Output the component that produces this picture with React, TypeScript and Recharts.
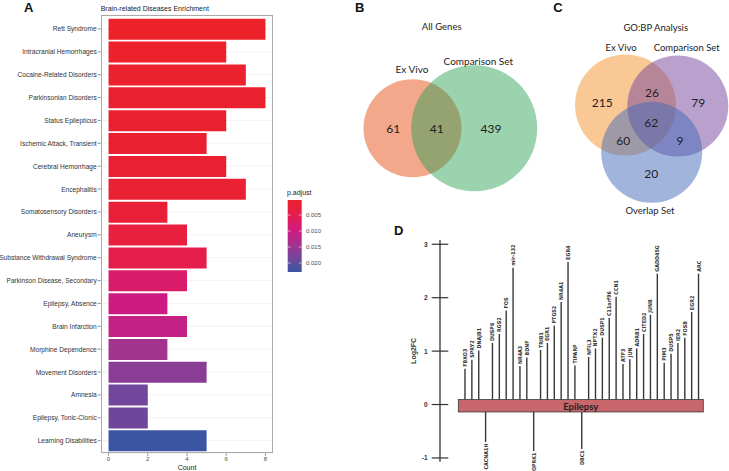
import React from 'react';
import {
  BarChart, Bar, XAxis, YAxis, CartesianGrid, ReferenceArea, Legend, LabelList, Cell,
  ScatterChart, Scatter, Label,
} from 'recharts';

// ---------------- Panel A data ----------------
const diseases = [
  'Rett Syndrome', 'Intracranial Hemorrhages', 'Cocaine-Related Disorders', 'Parkinsonian Disorders',
  'Status Epilepticus', 'Ischemic Attack, Transient', 'Cerebral Hemorrhage', 'Encephalitis',
  'Somatosensory Disorders', 'Aneurysm', 'Substance Withdrawal Syndrome', 'Parkinson Disease, Secondary',
  'Epilepsy, Absence', 'Brain Infarction', 'Morphine Dependence', 'Movement Disorders', 'Amnesia',
  'Epilepsy, Tonic-Clonic', 'Learning Disabilities',
];
const diseaseCounts = [8, 6, 7, 8, 6, 5, 6, 7, 3, 4, 5, 4, 3, 4, 3, 5, 2, 2, 5];
const diseasePAdjust = [
  0.0003, 0.0006, 0.0008, 0.0009, 0.0011, 0.0013, 0.0014, 0.0016, 0.0022, 0.003, 0.0045,
  0.0075, 0.01, 0.011, 0.0145, 0.0165, 0.0185, 0.0186, 0.0228,
];
const countTicks = [0, 2, 4, 6, 8];
const countGrid = [0, 1, 2, 3, 4, 5, 6, 7, 8];
const pAdjustTicks = [0.005, 0.01, 0.015, 0.02];

// ---------------- Panel B / C data ----------------
const vennBTitle = 'All Genes';
const vennBSets = ['Ex Vivo', 'Comparison Set'];
const vennBCounts = [61, 41, 439]; // ExVivo only, both, Comparison only
const vennCTitle = 'GO:BP Analysis';
const vennCSets = ['Ex Vivo', 'Comparison Set', 'Overlap Set'];
const vennCCounts = [215, 26, 79, 62, 60, 9, 20]; // E, E&C, C, all, E&O, C&O, O

// ---------------- Panel D data ----------------
const genes = [
  'FBXO3', 'SPRY2', 'DNAJB1', 'CACNA1H', 'DUSP6', 'RGS2', 'FOS', 'mir-132', 'NR4A3', 'BDNF', 'OPRK1',
  'TRIB1', 'EGR1', 'PTGS2', 'NR4A1', 'EGR4', 'TIPARP', 'DBC1', 'NFIL3', 'NPTX2', 'DUSP1', 'C11orf96',
  'CCN1', 'ATF3', 'JUN', 'ADRB1', 'CITED2', 'JUNB', 'GADD45G', 'PIM3', 'DUSP5', 'IER2', 'FOSB', 'EGR2', 'ARC',
];
const geneLog2FC = [
  0.67, 0.84, 1.01, -0.7, 1.15, 1.32, 1.76, 2.56, 0.72, 0.88, -0.87,
  1.02, 1.15, 1.48, 1.92, 2.67, 0.73, -0.83, 0.89, 1.05, 1.25, 1.62,
  2.02, 0.76, 0.85, 1.05, 1.32, 1.68, 2.45, 0.78, 0.95, 1.15, 1.25, 1.73, 2.45,
];
const log2fcTicks = [-1, 0, 1, 2, 3];
const pathwayName = 'Epilepsy';

// ---------------- styles ----------------
const SANS = "'Liberation Sans', Arial, Helvetica, sans-serif";
const VENN_FONT = "Lato, 'Open Sans', sans-serif";
const NARROW = "'Liberation Sans Narrow', 'DejaVu Sans Condensed', 'Liberation Sans', sans-serif";

const P_GRADIENT: [number, string][] = [
  [0, '#EC2129'], [0.2, '#E51D4D'], [0.42, '#CF1A80'], [0.64, '#9E3590'], [0.86, '#634B9E'], [1, '#3B55A4'],
];
const hexToRgb = (h: string) => {
  const n = parseInt(h.slice(1), 16);
  return [(n >> 16) & 255, (n >> 8) & 255, n & 255];
};
const gradColor = (t: number) => {
  const tt = Math.max(0, Math.min(1, t));
  for (let i = 0; i < P_GRADIENT.length - 1; i++) {
    const [t0, c0] = P_GRADIENT[i];
    const [t1, c1] = P_GRADIENT[i + 1];
    if (tt <= t1) {
      const f = (tt - t0) / (t1 - t0);
      const a = hexToRgb(c0), b = hexToRgb(c1);
      const c = a.map((v, k) => Math.round(v + (b[k] - v) * f));
      return `rgb(${c[0]},${c[1]},${c[2]})`;
    }
  }
  return P_GRADIENT[P_GRADIENT.length - 1][1];
};
const pMin = Math.min(...diseasePAdjust);
const pMax = Math.max(...diseasePAdjust);
const pT = (p: number) => (p - pMin) / (pMax - pMin);

const barData = diseases.map((name, i) => ({ name, count: diseaseCounts[i], p: diseasePAdjust[i] }));

// ---------------- Panel A ----------------
const BAR_W = 340, BAR_H = 471;
const A_MARGIN = { top: 15, right: 66.7, bottom: 0, left: 0 };
const A_YAXIS_W = 100.7, A_XAXIS_H = 17.7;
const COLORBAR_H = 72;

const PLegend = () => (
  <div style={{ fontFamily: SANS, color: '#222' }}>
    <div style={{ fontSize: 7, lineHeight: '9px', height: 12 }}>p.adjust</div>
    <svg width={60} height={COLORBAR_H + 4} style={{ display: 'block', overflow: 'visible' }}>
      <defs>
        <linearGradient id="pgrad" x1="0" y1="0" x2="0" y2="1">
          {P_GRADIENT.map(([t, c]) => <stop key={t} offset={t} stopColor={c} />)}
        </linearGradient>
      </defs>
      <rect x={0.7} y={0} width={14} height={COLORBAR_H} fill="url(#pgrad)" />
      {pAdjustTicks.map((v) => {
        const y = pT(v) * COLORBAR_H;
        return (
          <g key={v}>
            <line x1={0.7} x2={3.5} y1={y} y2={y} stroke="#fff" strokeWidth={0.6} />
            <line x1={11.9} x2={14.7} y1={y} y2={y} stroke="#fff" strokeWidth={0.6} />
            <text x={19} y={y} fontSize={6} dominantBaseline="central" fill="#4D4D4D" fontFamily={SANS}>
              {v.toFixed(3)}
            </text>
          </g>
        );
      })}
    </svg>
  </div>
);

const CatTick = (props: any) => {
  const { x, y, payload } = props;
  return (
    <text x={x} y={y} textAnchor="end" dominantBaseline="central" fontSize={6.6} fill="#333" fontFamily={SANS}>
      {payload.value}
    </text>
  );
};

const PanelA = () => (
  <div style={{ position: 'absolute', left: 0, top: 0 }}>
    <BarChart
      layout="vertical"
      width={BAR_W}
      height={BAR_H}
      data={barData}
      margin={A_MARGIN}
      barCategoryGap="5%"
    >
      <CartesianGrid
        stroke="#EBEBEB"
        strokeWidth={0.6}
        verticalCoordinatesGenerator={(args: any) => {
          const s = args && args.xAxis && args.xAxis.scale;
          if (typeof s === 'function') return countGrid.map((v) => s(v));
          return [];
        }}
      />
      <XAxis
        type="number"
        domain={[-0.4, 8.4]}
        allowDataOverflow
        ticks={countTicks}
        interval={0}
        height={A_XAXIS_H}
        axisLine={false}
        tickLine={{ stroke: '#444', strokeWidth: 0.6 }}
        tickSize={2.5}
        tickMargin={1}
        tick={{ fontSize: 6, fill: '#4D4D4D', fontFamily: SANS }}
      >
        <Label value="Count" position="insideBottom" offset={1} style={{ fontSize: 7, fill: '#222', fontFamily: SANS }} />
      </XAxis>
      <YAxis
        type="category"
        dataKey="name"
        width={A_YAXIS_W}
        interval={0}
        axisLine={false}
        tickLine={{ stroke: '#444', strokeWidth: 0.6 }}
        tickSize={3}
        tickMargin={1}
        padding={{ top: 2.5, bottom: 1.2 }}
        tick={CatTick}
      />
      <Bar dataKey="count" isAnimationActive={false}>
        {barData.map((d, i) => <Cell key={i} fill={gradColor(pT(d.p))} />)}
      </Bar>
      <Legend
        layout="vertical"
        align="center"
        verticalAlign="middle"
        content={() => <PLegend />}
        wrapperStyle={{ left: 287, top: 188, width: 60, height: 90 }}
      />
    </BarChart>
    <div
      style={{
        position: 'absolute',
        left: A_MARGIN.left + A_YAXIS_W,
        top: A_MARGIN.top,
        width: BAR_W - A_MARGIN.left - A_YAXIS_W - A_MARGIN.right,
        height: BAR_H - A_MARGIN.top - A_MARGIN.bottom - A_XAXIS_H,
        boxSizing: 'border-box',
        border: '0.8px solid #AAAAAA',
        pointerEvents: 'none',
      }}
    />
  </div>
);

// ---------------- Panels B & C (Venn) ----------------
const VENN_LEFT = 340, VENN_W = 389, VENN_H = 225;

const vennCircleLayout = [
  { x: 412.5, y: 128.3, r: 49, fill: '#E9602E', opacity: 0.55 },
  { x: 474.2, y: 128.3, r: 63, fill: '#219D4B', opacity: 0.45 },
  { x: 625.5, y: 105, r: 50.5, fill: '#F3912A', opacity: 0.5 },
  { x: 677.8, y: 106, r: 50.5, fill: '#75419B', opacity: 0.5 },
  { x: 651.7, y: 152.3, r: 50.5, fill: '#4169B9', opacity: 0.5 },
];
const vennCirclePoints = vennCircleLayout.map((c) => ({ ...c, x: c.x - VENN_LEFT }));

const vennBCountPos = [[393.3, 128.3], [436.7, 128.3], [491, 128.3]];
const vennCCountPos = [[602.3, 102.3], [652, 92.3], [698.3, 102.7], [651.3, 122.3], [623.3, 140], [680, 140], [651.3, 173.3]];

const vennTextPoints = [
  { x: 441.7, y: 26, text: vennBTitle, size: 9.5 },
  { x: 412, y: 68.5, text: vennBSets[0], size: 10 },
  { x: 478.3, y: 60.7, text: vennBSets[1], size: 10 },
  ...vennBCounts.map((c, i) => ({ x: vennBCountPos[i][0], y: vennBCountPos[i][1], text: String(c), size: 12 })),
  { x: 655.7, y: 27.3, text: vennCTitle, size: 9.5 },
  { x: 621, y: 47.7, text: vennCSets[0], size: 9.5 },
  { x: 686.7, y: 47.7, text: vennCSets[1], size: 9.5 },
  { x: 650, y: 210, text: vennCSets[2], size: 9.5 },
  ...vennCCounts.map((c, i) => ({ x: vennCCountPos[i][0], y: vennCCountPos[i][1], text: String(c), size: 12 })),
].map((t) => ({ ...t, x: t.x - VENN_LEFT }));

const CircleShape = (p: any) => (
  <circle cx={p.cx} cy={p.cy} r={p.payload.r} fill={p.payload.fill} fillOpacity={p.payload.opacity} />
);
const TextShape = (p: any) => (
  <text
    x={p.cx}
    y={p.cy}
    textAnchor="middle"
    dominantBaseline="central"
    fontSize={p.payload.size}
    fontFamily={VENN_FONT}
    fill="#222"
  >
    {p.payload.text}
  </text>
);

const PanelVenn = () => (
  <div style={{ position: 'absolute', left: VENN_LEFT, top: 0 }}>
    <ScatterChart width={VENN_W} height={VENN_H} margin={{ top: 0, right: 0, bottom: 0, left: 0 }}>
      <XAxis type="number" dataKey="x" domain={[0, VENN_W]} allowDataOverflow hide />
      <YAxis type="number" dataKey="y" domain={[0, VENN_H]} allowDataOverflow reversed hide />
      <Scatter data={vennCirclePoints} shape={CircleShape} isAnimationActive={false} />
      <Scatter data={vennTextPoints} shape={TextShape} isAnimationActive={false} />
    </ScatterChart>
  </div>
);

// ---------------- Panel D ----------------
const BOX_TOP = 0.094, BOX_BOTTOM = -0.139;
const geneData = genes.map((gene, i) => ({ gene, fc: geneLog2FC[i] }));
const rangeKey = (d: any) => (d.fc >= 0 ? [BOX_TOP, d.fc] : [BOX_BOTTOM, d.fc]);

const GeneLabel = (props: any) => {
  const vb = props.viewBox && props.viewBox.width !== undefined ? props.viewBox : props;
  const name = props.value;
  const idx = genes.indexOf(name);
  if (idx < 0 || vb.x === undefined) return null;
  const cx = vb.x + vb.width / 2;
  const top = Math.min(vb.y, vb.y + vb.height);
  const bottom = Math.max(vb.y, vb.y + vb.height);
  const up = geneLog2FC[idx] >= 0;
  const ay = up ? top - 2 : bottom + 1.5;
  return (
    <text
      x={cx}
      y={ay}
      transform={`rotate(-90 ${cx} ${ay})`}
      textAnchor={up ? 'start' : 'end'}
      dominantBaseline="central"
      fontSize={5.4}
      fontWeight="bold"
      fontFamily={NARROW}
      fill="#333"
    >
      {name}
    </text>
  );
};

const DTick = (props: any) => {
  const { x, y, payload } = props;
  return (
    <g>
      <line x1={x - 8.3} x2={x + 8.3} y1={y} y2={y} stroke="#333" strokeWidth={1.2} />
      <text x={x - 12.5} y={y} textAnchor="end" dominantBaseline="central" fontSize={6.5} fontWeight="bold" fontFamily={SANS} fill="#333">
        {payload.value}
      </text>
    </g>
  );
};

const LogLabel = (props: any) => {
  const vb = props.viewBox || { x: 0, y: 0, width: 0, height: 0 };
  const x = vb.x + vb.width - 26;
  const y = vb.y + vb.height / 2;
  return (
    <text x={x} y={y} transform={`rotate(-90 ${x} ${y})`} textAnchor="middle" dominantBaseline="central" fontSize={7} fontWeight="bold" fontFamily={SANS} fill="#333">
      Log2FC
    </text>
  );
};

const BoxShape = (p: any) => (
  <g>
    <rect x={p.x - 3} y={p.y} width={p.width + 4.6} height={p.height} fill="#C8676B" stroke="#3A3A3A" strokeWidth={0.8} />
    <text x={p.x + p.width / 2 - 0.7} y={p.y + p.height / 2 + 0.5} textAnchor="middle" dominantBaseline="central" fontFamily={VENN_FONT} fontWeight="bold" fontSize={9.5} fill="#222">
      {pathwayName}
    </text>
  </g>
);

const PanelD = () => (
  <div style={{ position: 'absolute', left: 390, top: 225 }}>
    <BarChart width={339} height={246} data={geneData} margin={{ top: 15, right: 27.3, bottom: 9.3, left: 10 }}>
      <XAxis type="category" dataKey="gene" hide padding={{ left: 21.3, right: 0 }} />
      <YAxis
        type="number"
        domain={[-1.07, 3.08]}
        allowDataOverflow
        ticks={log2fcTicks}
        interval={0}
        width={40}
        axisLine={{ stroke: '#333', strokeWidth: 1.3 }}
        tickLine={false}
        tickSize={0}
        tickMargin={0}
        tick={DTick}
      >
        <Label content={LogLabel} />
      </YAxis>
      <ReferenceArea
        x1={genes[0]}
        x2={genes[genes.length - 1]}
        y1={BOX_BOTTOM}
        y2={BOX_TOP}
        ifOverflow="visible"
        shape={BoxShape}
      />
      <Bar dataKey={rangeKey} barSize={1.4} fill="#383838" isAnimationActive={false}>
        <LabelList dataKey="gene" content={GeneLabel} />
      </Bar>
    </BarChart>
  </div>
);

// ---------------- App ----------------
export default function App() {
  return (
    <div style={{ position: 'absolute', left: 0, top: 0, width: 729, height: 471, background: '#fff', overflow: 'hidden' }}>
      <PanelA />
      <PanelVenn />
      <PanelD />
      <svg width={729} height={471} style={{ position: 'absolute', left: 0, top: 0, pointerEvents: 'none' }}>
        <text x={100.7} y={10.8} fontSize={7} fontFamily={SANS} fill="#222">Brain-related Diseases Enrichment</text>
        <text x={24} y={11.7} fontSize={13} fontWeight="bold" fontFamily={SANS} fill="#111">A</text>
        <text x={355} y={11.7} fontSize={13} fontWeight="bold" fontFamily={SANS} fill="#111">B</text>
        <text x={553.3} y={11.7} fontSize={13} fontWeight="bold" fontFamily={SANS} fill="#111">C</text>
        <text x={394} y={235} fontSize={13} fontWeight="bold" fontFamily={SANS} fill="#111">D</text>
      </svg>
    </div>
  );
}
